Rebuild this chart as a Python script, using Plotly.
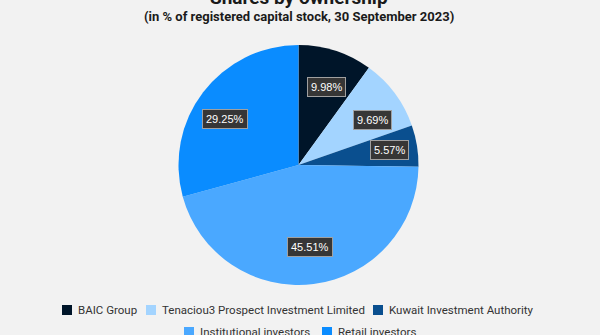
import math
import plotly.graph_objects as go

# Ownership structure, 30 September 2023
holders = [
    "BAIC Group",
    "Tenaciou3 Prospect Investment Limited",
    "Kuwait Investment Authority",
    "Institutional investors",
    "Retail investors",
]
shares_pct = [9.98, 9.69, 5.57, 45.51, 29.25]
slice_colors = ["#001529", "#a3d4ff", "#0a4f8f", "#4aa8ff", "#0a8cff"]

title_text = "Shares by ownership"
subtitle_text = "(in % of registered capital stock, 30 September 2023)"

W, H = 600, 335
M_L, M_R, M_T, M_B = 0, 3, 45, 50
plot_w = W - M_L - M_R
plot_h = H - M_T - M_B


def px_x(px):
    """Pixel column -> paper x."""
    return (px - M_L) / plot_w


def px_y(py):
    """Pixel row (from top) -> paper y."""
    return 1 + (M_T - py) / plot_h


fig = go.Figure(
    go.Pie(
        labels=holders,
        values=shares_pct,
        sort=False,
        direction="clockwise",
        rotation=0,
        marker=dict(colors=slice_colors, line=dict(width=0)),
        textinfo="none",
        hoverinfo="label+percent",
        showlegend=False,
        domain=dict(x=[0, 1], y=[0, 1]),
    )
)

# Boxed percentage labels at ~77% of the radius, on each slice's mid angle
radius_px = min(plot_w, plot_h) / 2
label_r = 0.77 * radius_px
total = sum(shares_pct)
cum = 0.0
for v in shares_pct:
    mid = cum + v / 2
    cum += v
    ang = math.radians(90 - mid / total * 360)
    fig.add_annotation(
        x=0.5 + label_r * math.cos(ang) / plot_w,
        y=0.5 + label_r * math.sin(ang) / plot_h,
        xref="paper", yref="paper",
        text=f"{v:.2f}%", showarrow=False,
        font=dict(family="Liberation Sans, Arial, sans-serif", size=11, color="#ffffff"),
        bgcolor="#363636", bordercolor="#a0a0a0", borderwidth=1, borderpad=3,
    )

# Title and subtitle
fig.add_annotation(
    x=0.5, y=px_y(-3), xref="paper", yref="paper",
    text=f"<b>{title_text}</b>", showarrow=False, yanchor="middle",
    font=dict(family="Roboto, sans-serif", size=19, color="#1a1a1a"),
)
fig.add_annotation(
    x=0.5, y=px_y(17), xref="paper", yref="paper",
    text=f"<b>{subtitle_text}</b>", showarrow=False, yanchor="middle",
    font=dict(family="Roboto, sans-serif", size=13, color="#1a1a1a"),
)

# Legend: two centred rows of square swatches with labels
legend_rows = [[0, 1, 2], [3, 4]]
legend_row_y = [310, 332]
legend_swatch_x = [62, 146, 373, 184, 322]
SW = 10
for row, ry in zip(legend_rows, legend_row_y):
    for i in row:
        sx = legend_swatch_x[i]
        fig.add_shape(
            type="rect", xref="paper", yref="paper",
            x0=px_x(sx), x1=px_x(sx + SW),
            y0=px_y(ry + SW / 2), y1=px_y(ry - SW / 2),
            fillcolor=slice_colors[i], line=dict(width=0),
        )
        fig.add_annotation(
            x=px_x(sx + SW + 4), y=px_y(ry), xref="paper", yref="paper",
            text=holders[i], showarrow=False, xanchor="left", yanchor="middle",
            font=dict(family="Roboto, sans-serif", size=11.5, color="#333333"),
        )

fig.update_layout(
    width=W, height=H,
    margin=dict(l=M_L, r=M_R, t=M_T, b=M_B),
    paper_bgcolor="#f2f2f2",
    plot_bgcolor="#f2f2f2",
    showlegend=False,
)

fig.write_html("out.html")
